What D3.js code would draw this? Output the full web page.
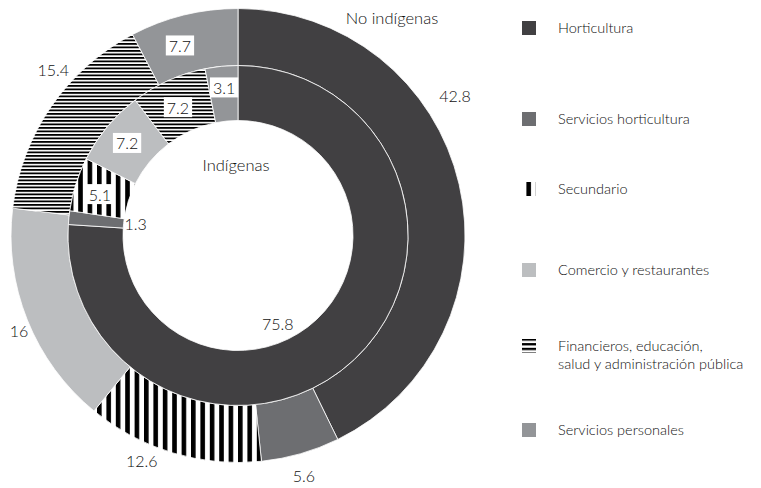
<!DOCTYPE html>
<html>
<head>
<meta charset="utf-8">
<script src="https://cdn.jsdelivr.net/npm/d3@7"></script>
<style>
  body { margin: 0; background: #fff; }
  svg { display: block; }
  text { font-family: Lato, "Open Sans", sans-serif; font-weight: 300; fill: #111; }
</style>
</head>
<body>
<svg id="chart" width="761" height="488"></svg>
<script>
// Employment by sector (%), indigenous vs non-indigenous workers
const categories = [
  "Horticultura",
  "Servicios horticultura",
  "Secundario",
  "Comercio y restaurantes",
  "Financieros, educación, salud y administración pública",
  "Servicios personales"
];
const legendLines = [
  ["Horticultura"],
  ["Servicios horticultura"],
  ["Secundario"],
  ["Comercio y restaurantes"],
  ["Financieros, educación,", "salud y administración pública"],
  ["Servicios personales"]
];
const noIndigenas = [42.8, 5.6, 12.6, 16, 15.4, 7.7];
const indigenas   = [75.8, 1.3, 5.1, 7.2, 7.2, 3.1];
const ringTitles  = ["No indígenas", "Indígenas"];

// ---- layout & style ----
const cx = 238, cy = 235.5;
const rOuter = 227, rMid = 170, rInner = 115;
const fills = ["#414042", "#6d6e71", "url(#vstripes)", "#bcbec0", "url(#hstripes)", "#939598"];
const legendFills = ["#414042", "#6d6e71", "url(#vstripes)", "#bcbec0", "url(#hstripesKey)", "#939598"];
const boxedOuter = [false, false, false, false, false, true];
const boxedInner = [false, false, true, true, true, true];
// label placement relative to each slice centroid: [angle offset (deg), radius]
const outerLabelPos = [[-19.7, 258], [0.7, 250], [6.4, 245], [-1.8, 239], [7.2, 248], [-3.2, 198]];
const innerLabelPos = [[19, 97], [0.4, 103], [-1.2, 144], [-0.2, 144], [-1, 141], [0.2, 148]];
const legendRowY = [28, 119, 189, 270, 346, 430];
const legendLineGap = 17.5;

const svg = d3.select("#chart");
const defs = svg.append("defs");

function stripes(id, w, h, bw, bh) {
  const p = defs.append("pattern").attr("id", id)
    .attr("patternUnits", "userSpaceOnUse").attr("width", w).attr("height", h);
  p.append("rect").attr("width", w).attr("height", h).attr("fill", "#fff");
  p.append("rect").attr("width", bw).attr("height", bh).attr("fill", "#000");
}
stripes("vstripes", 9.4, 10, 4.6, 10);      // vertical bars
stripes("hstripes", 10, 3.5, 10, 1.8);      // horizontal bars
stripes("hstripesKey", 10, 4.7, 10, 2.3);   // coarser bars for the legend key

const pie = d3.pie().sort(null).value(d => d);
const g = svg.append("g").attr("transform", `translate(${cx},${cy})`);

function ring(values, r0, r1, labelPos, boxed, fontSize) {
  const arcs = pie(values);
  const arc = d3.arc().innerRadius(r0).outerRadius(r1);
  g.append("g").selectAll("path").data(arcs).join("path")
    .attr("d", arc)
    .attr("fill", (d, i) => fills[i])
    .attr("stroke", "#fff")
    .attr("stroke-width", 0.8);

  const lg = g.append("g");
  arcs.forEach((d, i) => {
    const mid = (d.startAngle + d.endAngle) / 2 + labelPos[i][0] * Math.PI / 180;
    const r = labelPos[i][1];
    const x = r * Math.sin(mid), y = -r * Math.cos(mid);
    const t = lg.append("text")
      .attr("x", x).attr("y", y).attr("dy", "0.36em")
      .attr("text-anchor", "middle")
      .attr("font-size", fontSize)
      .text(String(d.data));
    if (boxed[i]) {
      const bb = t.node().getBBox();
      lg.insert("rect", () => t.node())
        .attr("x", bb.x - 3).attr("y", bb.y - 0.5)
        .attr("width", bb.width + 6).attr("height", bb.height + 1)
        .attr("fill", "#fff");
    }
  });
}

ring(noIndigenas, rMid, rOuter, outerLabelPos, boxedOuter, 16);
ring(indigenas, rInner, rMid, innerLabelPos, boxedInner, 16);

// ring titles
svg.append("text").attr("x", 392).attr("y", 18).attr("dy", "0.36em")
  .attr("text-anchor", "middle").attr("font-size", 16.5).text(ringTitles[0]);
svg.append("text").attr("x", 236).attr("y", 165).attr("dy", "0.36em")
  .attr("text-anchor", "middle").attr("font-size", 16.5).text(ringTitles[1]);

// legend
const legend = svg.append("g");
categories.forEach((c, i) => {
  const y = legendRowY[i];
  legend.append("rect")
    .attr("x", 522).attr("y", y - 7).attr("width", 14).attr("height", 14)
    .attr("fill", legendFills[i]);
  const t = legend.append("text").attr("x", 558).attr("font-size", 14.5);
  legendLines[i].forEach((ln, k) => {
    t.append("tspan").attr("x", 558)
      .attr("y", y + k * legendLineGap)
      .attr("dy", "0.36em").text(ln);
  });
});
</script>
</body>
</html>
